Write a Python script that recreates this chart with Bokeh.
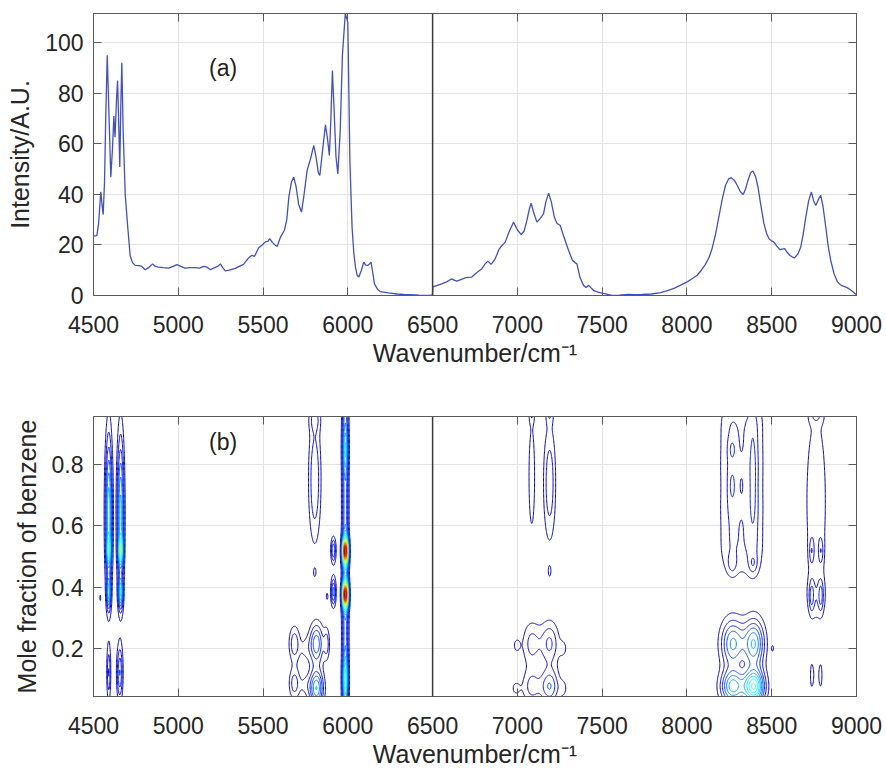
import numpy as np
from bokeh.plotting import figure
from bokeh.models import Range1d, LinearAxis, FixedTicker, Span, Label
from bokeh.layouts import column
from bokeh.embed import file_html
from bokeh.resources import INLINE

# ---------------- data: panel (a) spectrum ----------------
wavenumber = [4500, 4520, 4530, 4543, 4550, 4557, 4565, 4572, 4581, 4592, 4602, 4612, 4620, 4627,
              4636, 4642, 4648, 4655, 4661, 4667, 4675, 4687, 4702, 4716, 4730, 4746, 4770, 4785,
              4805, 4825, 4848, 4865, 4884, 4910, 4943, 4970, 4992, 5015, 5040, 5070, 5100, 5125,
              5149, 5170, 5189, 5215, 5235, 5248, 5262, 5277, 5300, 5336, 5360, 5385, 5410, 5434,
              5450, 5474, 5495, 5513, 5530, 5539, 5555, 5572, 5583, 5603, 5626, 5640, 5652, 5668,
              5681, 5695, 5710, 5727, 5742, 5760, 5780, 5799, 5812, 5826, 5835, 5852, 5868, 5880,
              5891, 5900, 5909, 5918, 5930, 5941, 5955, 5968, 5985, 6000, 6012, 6025, 6035, 6045,
              6055, 6065, 6080, 6094, 6105, 6117, 6128, 6137, 6147, 6157, 6175, 6192, 6240, 6290,
              6330, 6369, 6420, 6487, 6499, 6501, 6554, 6585, 6613, 6630, 6643, 6670, 6692, 6710,
              6731, 6760, 6790, 6810, 6826, 6845, 6869, 6890, 6904, 6928, 6950, 6977, 7000, 7022,
              7040, 7056, 7070, 7081, 7095, 7115, 7135, 7154, 7168, 7184, 7200, 7218, 7233, 7253,
              7275, 7302, 7325, 7340, 7351, 7370, 7390, 7405, 7420, 7435, 7449, 7475, 7498, 7520,
              7557, 7600, 7655, 7700, 7734, 7790, 7844, 7880, 7923, 7960, 8001, 8030, 8060, 8085,
              8109, 8130, 8148, 8168, 8188, 8208, 8227, 8245, 8261, 8280, 8297, 8315, 8332, 8345,
              8360, 8375, 8389, 8405, 8419, 8435, 8454, 8470, 8484, 8500, 8513, 8530, 8549, 8562,
              8576, 8592, 8608, 8622, 8635, 8655, 8671, 8685, 8701, 8718, 8734, 8747, 8760, 8775,
              8789, 8803, 8819, 8833, 8848, 8868, 8888, 8910, 8930, 8947, 8970, 8996, 9000]
intensity = [23.5, 23.7, 28.4, 41.0, 36.0, 32.0, 45.0, 70.0, 95.0, 70.0, 46.8, 58.0, 71.0, 62.6,
             78.0, 85.0, 70.0, 50.8, 75.0, 92.0, 65.0, 40.0, 27.0, 15.8, 13.0, 11.9, 11.8, 11.5,
             10.2, 11.0, 12.5, 11.5, 11.2, 11.0, 10.8, 11.5, 12.2, 11.5, 10.8, 11.0, 11.0, 10.8,
             11.5, 11.2, 10.2, 11.0, 11.6, 12.5, 11.0, 9.7, 10.0, 10.7, 11.5, 12.3, 14.5, 15.9,
             15.5, 18.9, 20.0, 21.2, 21.5, 22.5, 21.0, 19.9, 19.4, 23.1, 25.8, 30.0, 38.9, 45.0,
             46.8, 43.0, 36.0, 33.0, 40.0, 49.5, 54.0, 59.3, 55.0, 48.5, 47.5, 58.0, 67.5, 62.0,
             55.4, 70.0, 89.0, 75.0, 55.0, 48.1, 65.0, 95.0, 111.5, 108.0, 53.4, 27.0, 17.0, 11.2,
             8.0, 7.3, 10.0, 13.2, 12.0, 11.9, 12.5, 13.2, 9.0, 4.6, 2.5, 1.5, 1.0, 0.6,
             0.4, 0.3, 0.1, 0.0, 0.2, 3.4, 4.6, 5.5, 6.6, 6.0, 5.7, 6.4, 7.0, 7.2,
             7.3, 9.0, 10.6, 12.5, 13.6, 12.3, 14.5, 18.0, 19.4, 21.1, 25.0, 29.0, 26.0, 24.1,
             25.5, 29.7, 34.0, 36.5, 33.0, 29.0, 30.5, 32.3, 37.0, 40.5, 37.0, 31.0, 28.6, 27.7,
             23.0, 17.8, 13.8, 13.0, 12.5, 7.0, 4.0, 3.2, 4.0, 3.0, 2.0, 1.3, 0.9, 0.6,
             0.0, 0.1, 0.4, 0.3, 0.4, 0.6, 1.1, 1.8, 2.8, 4.0, 5.4, 6.6, 8.0, 10.0,
             12.3, 15.0, 18.5, 24.0, 31.0, 38.0, 43.5, 46.0, 46.6, 45.5, 43.5, 41.0, 39.9, 42.0,
             45.5, 48.5, 49.2, 47.0, 42.9, 36.0, 28.4, 24.5, 22.4, 21.5, 21.1, 19.5, 18.1, 18.3,
             18.5, 17.0, 15.8, 15.2, 14.9, 16.5, 19.1, 24.0, 31.0, 37.5, 40.9, 37.5, 35.6, 38.0,
             39.6, 35.0, 27.0, 19.5, 13.9, 8.5, 5.3, 4.0, 3.5, 3.0, 2.0, 0.5, 0.4]

# ---------------- data: panel (b) contour peaks ----------------
# centre wavenumber, centre mole fraction, width (cm-1), width (fraction), height
peak_x = [4590, 4660, 4590, 4660, 4590, 4660, 4590, 4655, 4540,
          5985, 5985, 5985, 5985, 5985, 5915, 5915, 5878,
          5805, 5805, 5805, 5685, 5815, 5875, 5685, 5815, 5750, 5750,
          7085, 7190, 7190, 7085, 7190, 7085, 7190, 7085, 7190, 6995, 6990, 7270, 7270,
          8267, 8267, 8267, 8267, 8390, 8390, 8390, 8390, 8267, 8267, 8390, 8267, 8390,
          8270, 8395, 8270, 8395, 8505,
          8762, 8735, 8790, 8735, 8790, 8762, 8762, 8762, 8735, 8790]
peak_y = [0.64, 0.64, 0.52, 0.52, 0.38, 0.38, 0.12, 0.12, 0.365,
          0.50, 0.518, 0.376, 0.85, 0.10, 0.52, 0.385, 0.37,
          0.75, 0.448, 0.95, 0.215, 0.215, 0.215, 0.085, 0.07, 0.20, 0.08,
          0.76, 0.74, 0.452, 0.215, 0.215, 0.075, 0.075, 0.96, 0.96, 0.21, 0.07, 0.20, 0.07,
          0.52, 0.66, 0.80, 0.94, 0.52, 0.66, 0.80, 0.94, 0.85, 0.73, 0.75, 0.475, 0.475,
          0.215, 0.215, 0.075, 0.075, 0.20,
          0.68, 0.518, 0.518, 0.371, 0.371, 0.37, 0.96, 0.11, 0.11, 0.11]
peak_wx = [14, 14, 8, 9, 8, 9, 8, 12, 3,
           13, 12, 12, 11, 11, 10, 10, 5,
           25, 6, 25, 22, 28, 12, 22, 28, 25, 25,
           15, 25, 7, 38, 38, 38, 38, 12, 15, 18, 22, 18, 18,
           55, 55, 55, 55, 45, 45, 45, 45, 15, 15, 15, 18, 18,
           48, 42, 48, 42, 6,
           50, 10, 10, 10, 10, 40, 30, 25, 8, 8]
peak_wy = [0.17, 0.17, 0.03, 0.03, 0.035, 0.035, 0.06, 0.06, 0.01,
           1.0, 0.03, 0.03, 0.05, 0.05, 0.028, 0.032, 0.012,
           0.14, 0.012, 0.03, 0.04, 0.045, 0.035, 0.035, 0.04, 0.03, 0.025,
           0.14, 0.13, 0.015, 0.05, 0.05, 0.04, 0.04, 0.02, 0.02, 0.02, 0.02, 0.02, 0.02,
           0.07, 0.07, 0.07, 0.07, 0.07, 0.07, 0.07, 0.07, 0.025, 0.04, 0.12, 0.022, 0.022,
           0.055, 0.055, 0.038, 0.038, 0.01,
           0.24, 0.03, 0.03, 0.035, 0.035, 0.05, 0.02, 0.05, 0.04, 0.04]
peak_amp = [0.34, 0.32, 0.24, 0.32, 0.24, 0.27, 0.15, 0.2, 0.07,
            0.24, 0.76, 0.76, 0.14, 0.22, 0.2, 0.22, 0.07,
            0.15, 0.07, 0.08, 0.14, 0.24, 0.12, 0.13, 0.3, 0.055, 0.055,
            0.09, 0.14, 0.07, 0.12, 0.16, 0.12, 0.2, 0.07, 0.07, 0.06, 0.06, 0.06, 0.06,
            0.085, 0.085, 0.085, 0.085, 0.09, 0.09, 0.09, 0.09, 0.06, 0.06, 0.06, 0.07, 0.07,
            0.26, 0.3, 0.32, 0.44, 0.06,
            0.09, 0.09, 0.09, 0.11, 0.11, 0.06, 0.07, 0.04, 0.04, 0.04]
contour_levels = [0.05, 0.10, 0.15, 0.20, 0.25, 0.30, 0.35, 0.40, 0.45, 0.50,
                  0.55, 0.60, 0.65, 0.70, 0.75, 0.80, 0.85, 0.90, 0.95, 1.00]

x_ticks = [4500, 5000, 5500, 6000, 6500, 7000, 7500, 8000, 8500, 9000]
y_ticks_a = [0, 20, 40, 60, 80, 100]
y_ticks_b = [0.2, 0.4, 0.6, 0.8]

FONT = "Liberation Sans"
AX = "#5a5a5a"


def jet_hex(t):
    r = min(max(1.5 - abs(4 * t - 3), 0), 1)
    g = min(max(1.5 - abs(4 * t - 2), 0), 1)
    b = min(max(1.5 - abs(4 * t - 1), 0), 1)
    return "#%02x%02x%02x" % (int(r * 255), int(g * 255), int(b * 255))


def style(p, yticks, ylabel):
    p.xaxis.ticker = FixedTicker(ticks=x_ticks)
    p.yaxis.ticker = FixedTicker(ticks=yticks)
    p.xgrid.ticker = FixedTicker(ticks=x_ticks)
    p.ygrid.ticker = FixedTicker(ticks=yticks)
    p.grid.grid_line_color = "#e3e3e3"
    p.grid.grid_line_width = 1
    for ax in (p.xaxis[0], p.yaxis[0]):
        ax.major_label_text_font = FONT
        ax.major_label_text_font_size = "23px"
        ax.major_label_text_color = "#262626"
        ax.axis_label_text_font = FONT
        ax.axis_label_text_font_size = "25px"
        ax.axis_label_text_font_style = "normal"
        ax.axis_label_text_color = "#262626"
        ax.major_tick_in = 8
        ax.major_tick_out = 0
        ax.minor_tick_line_color = None
        ax.axis_line_color = AX
        ax.major_tick_line_color = AX
    p.xaxis.major_label_standoff = 20
    p.yaxis.major_label_standoff = 10
    p.xaxis.axis_label = "Wavenumber/cm\u207b\u00b9"
    p.xaxis.axis_label_standoff = 3
    p.yaxis.axis_label = ylabel
    p.yaxis.axis_label_standoff = 8
    for loc, tk in (("right", yticks), ("above", x_ticks)):
        ax = LinearAxis(ticker=FixedTicker(ticks=tk), major_label_text_font_size="1px",
                        major_label_text_color=None,
                        major_label_standoff=0, major_tick_in=8, major_tick_out=0,
                        axis_line_color=AX, major_tick_line_color=AX,
                        minor_tick_line_color=None)
        p.add_layout(ax, loc)
    p.outline_line_color = AX
    p.add_layout(Span(location=6500, dimension="height", line_color="#3a3a3a", line_width=1.5))


# ---------------- panel (a) ----------------
p1 = figure(width=886, height=370, output_backend="svg", toolbar_location=None,
            x_range=Range1d(4500, 9000), y_range=Range1d(0, 111.5),
            min_border_left=93, min_border_right=30, min_border_top=13, min_border_bottom=75)
style(p1, y_ticks_a, "Intensity/A.U.")
p1.line(wavenumber, intensity, line_color="#4150c4", line_width=1.3)
p1.add_layout(Label(x=5264, y=90, text="(a)", text_font=FONT, text_font_size="23px",
                    text_align="center", text_baseline="middle", text_color="#222222"))

# ---------------- panel (b) ----------------
p2 = figure(width=886, height=400, output_backend="svg", toolbar_location=None,
            x_range=Range1d(4500, 9000), y_range=Range1d(0.043, 0.957),
            min_border_left=93, min_border_right=30, min_border_top=46, min_border_bottom=72)
style(p2, y_ticks_b, "Mole fraction of benzene")

gx = np.arange(4500.0, 9001.0, 2.0)
gy = np.linspace(0.043, 0.957, 230)
GX, GY = np.meshgrid(gx, gy)
Z = np.zeros_like(GX)
for x0, y0, sx, sy, a in zip(peak_x, peak_y, peak_wx, peak_wy, peak_amp):
    Z += a * np.exp(-0.5 * ((GX - x0) / sx) ** 2 - 0.5 * ((GY - y0) / sy) ** 2)

lv0, lv1 = contour_levels[0], contour_levels[-1]
colors = [jet_hex(0.05 + 0.95 * (lv - lv0) / (lv1 - lv0)) for lv in contour_levels]
p2.contour(gx, gy, Z, levels=contour_levels, line_color=colors, line_width=1.0)
p2.add_layout(Label(x=5264, y=0.875, text="(b)", text_font=FONT, text_font_size="23px",
                    text_align="center", text_baseline="middle", text_color="#222222"))

layout = column(p1, p2)
open("out.html", "w").write(file_html(layout, INLINE))
